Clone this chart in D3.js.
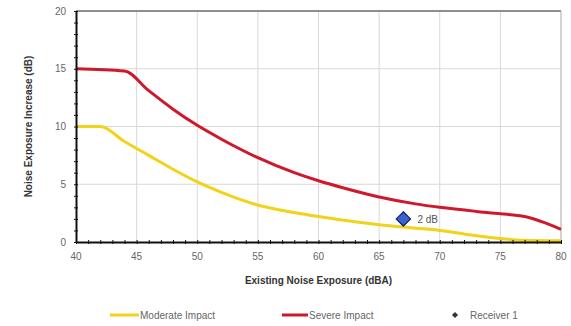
<!DOCTYPE html>
<html>
<head>
<meta charset="utf-8">
<script src="https://cdn.jsdelivr.net/npm/d3@7"></script>
<style>
  body { margin: 0; background: #fff; }
  svg { display: block; font-family: "Liberation Sans", Arial, sans-serif; }
</style>
</head>
<body>
<svg id="chart" width="571" height="326"></svg>
<script>
// Existing noise exposure (dBA) and allowed increase (dB) for each impact level
const moderateX = [40, 42, 44, 46, 48, 50, 52, 55, 58, 60, 63, 65, 68, 70, 72, 75, 77, 80];
const moderateY = [10, 10, 8.7, 7.5, 6.3, 5.2, 4.3, 3.2, 2.55, 2.2, 1.75, 1.5, 1.2, 1.0, 0.7, 0.3, 0.15, 0.1];
const severeX = [40, 44, 46, 48, 50, 52, 55, 58, 60, 62, 65, 68, 70, 73, 75, 77, 80];
const severeY = [15, 14.8, 13.1, 11.5, 10.1, 8.9, 7.3, 6.0, 5.3, 4.7, 3.9, 3.3, 3.0, 2.65, 2.45, 2.2, 1.1];
const receiverX = [67];
const receiverY = [2];
const receiverLabels = ["2 dB"];
const xTicks = [40, 45, 50, 55, 60, 65, 70, 75, 80];
const yTicks = [0, 5, 10, 15, 20];
const legendNames = ["Moderate Impact", "Severe Impact", "Receiver 1"];

const svg = d3.select("#chart");
const m = { left: 76, right: 10, top: 11, bottom: 84 };
const W = 571, H = 326;
const x = d3.scaleLinear().domain([40, 80]).range([m.left, W - m.right]);
const y = d3.scaleLinear().domain([0, 20]).range([H - m.bottom, m.top]);

const YELLOW = "#f2d21a", RED = "#d0182c";

// grid
const grid = svg.append("g");
grid.selectAll(".gx").data(xTicks.slice(1)).join("line")
  .attr("x1", d => x(d)).attr("x2", d => x(d))
  .attr("y1", y(0)).attr("y2", y(20))
  .attr("stroke", "#d9d9d9").attr("stroke-width", 1);
grid.selectAll(".gy").data(yTicks.slice(1)).join("line")
  .attr("x1", x(40)).attr("x2", x(80))
  .attr("y1", d => y(d)).attr("y2", d => y(d))
  .attr("stroke", "#d9d9d9").attr("stroke-width", 1);

// frame top/right
svg.append("line").attr("x1", x(40)).attr("x2", x(80)).attr("y1", y(20)).attr("y2", y(20))
  .attr("stroke", "#333").attr("stroke-width", 1);
svg.append("line").attr("x1", x(80)).attr("x2", x(80)).attr("y1", y(20)).attr("y2", y(0))
  .attr("stroke", "#bbb").attr("stroke-width", 1);

// curves
const line = d3.line().x(d => x(d[0])).y(d => y(d[1])).curve(d3.curveMonotoneX);
svg.append("path").datum(moderateX.map((e, i) => [e, moderateY[i]]))
  .attr("d", line).attr("fill", "none").attr("stroke", YELLOW).attr("stroke-width", 3);
svg.append("path").datum(severeX.map((e, i) => [e, severeY[i]]))
  .attr("d", line).attr("fill", "none").attr("stroke", RED).attr("stroke-width", 3);

// axes with minor ticks crossing the axis line
const xAxis = svg.append("g").attr("transform", `translate(0,${y(0)})`)
  .call(d3.axisBottom(x).tickValues(d3.range(40, 81, 1)).tickSize(0).tickFormat(""));
xAxis.select(".domain").attr("stroke", "#111").attr("stroke-width", 2);
xAxis.selectAll(".tick line").attr("y1", -2).attr("y2", 2).attr("stroke", "#111").attr("stroke-width", 1);
svg.append("g").selectAll("text").data(xTicks).join("text")
  .attr("x", d => x(d)).attr("y", y(0) + 18).attr("text-anchor", "middle")
  .attr("font-size", 10).attr("fill", "#666").text(d => d);

const yAxis = svg.append("g").attr("transform", `translate(${x(40)},0)`)
  .call(d3.axisLeft(y).tickValues(d3.range(0, 21, 1)).tickSize(0).tickFormat(""));
yAxis.select(".domain").attr("stroke", "#111").attr("stroke-width", 2);
yAxis.selectAll(".tick line").attr("x1", -2).attr("x2", 2).attr("stroke", "#111").attr("stroke-width", 1);
svg.append("g").selectAll("text").data(yTicks).join("text")
  .attr("x", x(40) - 10).attr("y", d => y(d) + 3.5).attr("text-anchor", "end")
  .attr("font-size", 10).attr("fill", "#666").text(d => d);

// axis titles
svg.append("text").attr("x", (x(40) + x(80)) / 2).attr("y", 284).attr("text-anchor", "middle")
  .attr("font-size", 10).attr("font-weight", "bold").attr("fill", "#333")
  .text("Existing Noise Exposure (dBA)");
svg.append("text").attr("transform", `translate(32,${(y(0) + y(20)) / 2}) rotate(-90)`)
  .attr("text-anchor", "middle").attr("font-size", 10).attr("font-weight", "bold").attr("fill", "#333")
  .text("Noise Exposure Increase (dB)");

// receiver marker
const diamond = d3.symbol().type(d3.symbolDiamond2);
svg.append("g").selectAll("path").data(receiverX).join("path")
  .attr("transform", (d, i) => `translate(${x(d)},${y(receiverY[i])})`)
  .attr("d", diamond.size(130)())
  .attr("fill", "#3b63d0").attr("stroke", "#16235a").attr("stroke-width", 1.2);
svg.append("g").selectAll("text").data(receiverX).join("text")
  .attr("x", d => x(d) + 14).attr("y", (d, i) => y(receiverY[i]) + 4)
  .attr("font-size", 10).attr("fill", "#555").text((d, i) => receiverLabels[i]);

// legend
const ly = 315;
const lg = svg.append("g").attr("font-size", 10).attr("fill", "#666");
lg.append("line").attr("x1", 110).attr("x2", 139).attr("y1", ly).attr("y2", ly)
  .attr("stroke", YELLOW).attr("stroke-width", 3);
lg.append("text").attr("x", 140).attr("y", ly + 3.5).text(legendNames[0]);
lg.append("line").attr("x1", 282).attr("x2", 308).attr("y1", ly).attr("y2", ly)
  .attr("stroke", RED).attr("stroke-width", 3);
lg.append("text").attr("x", 309).attr("y", ly + 3.5).text(legendNames[1]);
lg.append("path").attr("transform", `translate(455,${ly})`).attr("d", diamond.size(24)())
  .attr("fill", "#333");
lg.append("text").attr("x", 470).attr("y", ly + 3.5).text(legendNames[2]);
</script>
</body>
</html>
